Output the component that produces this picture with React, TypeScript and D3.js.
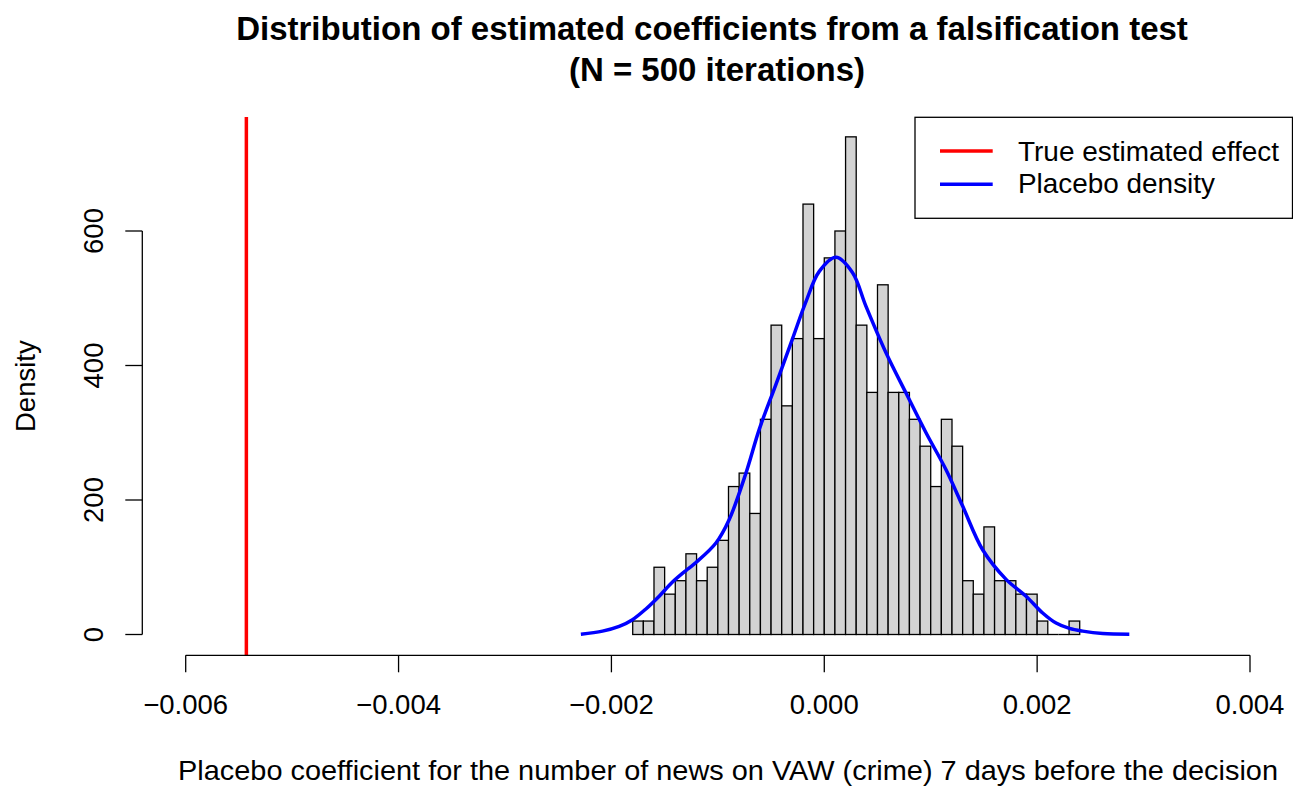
import React from "react";
import * as d3 from "d3";

// Histogram bins (left edges) and densities
const binStarts = [
  -0.0018, -0.0017, -0.0016, -0.0015, -0.0014, -0.0013, -0.0012, -0.0011, -0.001, -0.0009,
  -0.0008, -0.0007, -0.0006, -0.0005, -0.0004, -0.0003, -0.0002, -0.0001, 0.0, 0.0001,
  0.0002, 0.0003, 0.0004, 0.0005, 0.0006, 0.0007, 0.0008, 0.0009, 0.001, 0.0011,
  0.0012, 0.0013, 0.0014, 0.0015, 0.0016, 0.0017, 0.0018, 0.0019, 0.002, 0.0021,
  0.0022, 0.0023,
];
const binDensity = [
  20, 20, 100, 60, 80, 120, 80, 100, 140, 220,
  240, 180, 320, 460, 340, 440, 640, 440, 560, 600,
  740, 460, 360, 520, 360, 360, 320, 280, 220, 320,
  280, 80, 60, 160, 80, 80, 60, 60, 20, 0,
  0, 20,
];
const binWidth = 0.0001;

// Placebo density curve
const curveX = [
  -0.002287, -0.002084, -0.001927, -0.001802, -0.001676, -0.001551, -0.001426, -0.001285,
  -0.001206, -0.001018, -0.000893, -0.000736, -0.000611, -0.000454, -0.000298, -0.000172,
  -0.000047, 0.00011, 0.000266, 0.000392, 0.00058, 0.000768, 0.000956, 0.001144,
  0.0013, 0.001488, 0.001708, 0.001896, 0.002052, 0.002178, 0.002303, 0.002428,
  0.002616, 0.002866,
];
const curveY = [
  0.5, 5, 12, 22, 38, 57, 78, 97,
  107, 136, 171, 240, 305, 372, 440, 495,
  540, 561, 538, 488, 419, 359, 300, 245,
  191, 126, 82, 57, 32, 17, 9, 5,
  1.5, 0.5,
];

const trueEffect = -0.00543;

const xTicks = [-0.006, -0.004, -0.002, 0.0, 0.002, 0.004];
const xTickLabels = ["\u22120.006", "\u22120.004", "\u22120.002", "0.000", "0.002", "0.004"];
const yTicks = [0, 200, 400, 600];

const legendLabels = ["True estimated effect", "Placebo density"];
const legendColors = ["#FF0000", "#0000FF"];

const titleLines = [
  "Distribution of estimated coefficients from a falsification test",
  "(N = 500 iterations)",
];
const xLabel = "Placebo coefficient for the number of news on VAW (crime) 7 days before the decision";
const yLabel = "Density";

export default function App() {
  const W = 1293;
  const H = 787;
  const font = "'Liberation Sans', Arial, Helvetica, sans-serif";
  const fs = 27.5;

  const plotLeft = 142.3;
  const plotTop = 117;
  const plotBottom = 655.3;

  const x = d3.scaleLinear().domain([-0.006, 0.004]).range([185.7, 1250]);
  const y = d3.scaleLinear().domain([0, 600]).range([634.5, 231]);

  const pts: [number, number][] = curveX.map((v, i) => [v, curveY[i]]);
  const line = d3
    .line<[number, number]>()
    .x((d) => x(d[0]))
    .y((d) => y(d[1]))
    .curve(d3.curveCatmullRom.alpha(0.5));

  const legX = 915;
  const legY = 117.3;
  const legW = 377.5;
  const legH = 101;
  const legTextLen = [261, 197];

  return (
    <svg
      width={W}
      height={H}
      style={{ position: "absolute", left: 0, top: 0, background: "#fff" }}
      fontFamily={font}
    >
      <rect x={0} y={0} width={W} height={H} fill="#fff" />
      {/* Title */}
      <text x={712} y={40} textAnchor="middle" fontWeight="bold" fontSize={33} fill="#000">
        {titleLines[0]}
      </text>
      <text x={717} y={81} textAnchor="middle" fontWeight="bold" fontSize={33} fill="#000">
        {titleLines[1]}
      </text>

      {/* Bars */}
      <g>
        {binStarts.map((b, i) =>
          binDensity[i] > 0 ? (
            <rect
              key={i}
              x={x(b)}
              y={y(binDensity[i])}
              width={x(b + binWidth) - x(b)}
              height={y(0) - y(binDensity[i])}
              fill="#D3D3D3"
              stroke="#000"
              strokeWidth={1.3}
            />
          ) : (
            <line
              key={i}
              x1={x(b)}
              x2={x(b + binWidth)}
              y1={y(0)}
              y2={y(0)}
              stroke="#000"
              strokeWidth={1.3}
            />
          )
        )}
      </g>

      {/* Density curve */}
      <path d={line(pts) || ""} fill="none" stroke="#0000FF" strokeWidth={3.5} strokeLinejoin="round" />

      {/* True effect line */}
      <line
        x1={x(trueEffect)}
        x2={x(trueEffect)}
        y1={plotTop}
        y2={plotBottom}
        stroke="#FF0000"
        strokeWidth={3.5}
      />

      {/* X axis */}
      <g>
        <line
          x1={x(xTicks[0])}
          x2={x(xTicks[xTicks.length - 1])}
          y1={plotBottom}
          y2={plotBottom}
          stroke="#000"
          strokeWidth={1.3}
        />
        {xTicks.map((t, i) => (
          <g key={i}>
            <line x1={x(t)} x2={x(t)} y1={plotBottom} y2={plotBottom + 17} stroke="#000" strokeWidth={1.3} />
            <text x={x(t)} y={714} textAnchor="middle" fontSize={fs} fill="#000">
              {xTickLabels[i]}
            </text>
          </g>
        ))}
      </g>

      {/* Y axis */}
      <g>
        <line
          x1={plotLeft}
          x2={plotLeft}
          y1={y(yTicks[0])}
          y2={y(yTicks[yTicks.length - 1])}
          stroke="#000"
          strokeWidth={1.3}
        />
        {yTicks.map((t, i) => (
          <g key={i}>
            <line x1={plotLeft - 17} x2={plotLeft} y1={y(t)} y2={y(t)} stroke="#000" strokeWidth={1.3} />
            <text
              transform={`translate(103,${y(t)}) rotate(-90)`}
              textAnchor="middle"
              fontSize={fs}
              fill="#000"
            >
              {String(t)}
            </text>
          </g>
        ))}
      </g>

      {/* Axis labels */}
      <text
        x={728}
        y={780}
        textAnchor="middle"
        fontSize={fs}
        fill="#000"
        textLength={1100}
        lengthAdjust="spacingAndGlyphs"
      >
        {xLabel}
      </text>
      <text
        transform={`translate(35,${(plotTop + plotBottom) / 2}) rotate(-90)`}
        textAnchor="middle"
        fontSize={fs}
        fill="#000"
      >
        {yLabel}
      </text>

      {/* Legend */}
      <g>
        <rect x={legX} y={legY} width={legW} height={legH} fill="#fff" stroke="#000" strokeWidth={1.3} />
        {legendLabels.map((lab, i) => (
          <g key={i}>
            <line
              x1={940}
              x2={992.7}
              y1={151 + i * 33.3}
              y2={151 + i * 33.3}
              stroke={legendColors[i]}
              strokeWidth={3.5}
            />
            <text
              x={1018}
              y={160.7 + i * 32.6}
              fontSize={fs}
              fill="#000"
              textLength={legTextLen[i]}
              lengthAdjust="spacingAndGlyphs"
            >
              {lab}
            </text>
          </g>
        ))}
      </g>
    </svg>
  );
}
